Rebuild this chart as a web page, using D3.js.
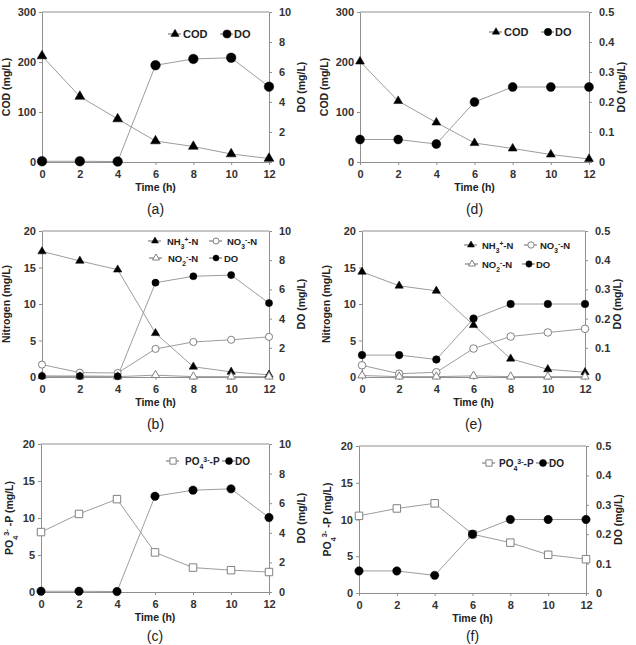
<!DOCTYPE html>
<html>
<head>
<meta charset="utf-8">
<script src="https://cdn.jsdelivr.net/npm/d3@7"></script>
<style>
  body { margin: 0; background: #fff; }
  svg { display: block; }
  text { font-family: Arial, "Liberation Sans", sans-serif; }
</style>
</head>
<body>
<svg id="chart" width="636" height="645"></svg>
<script>
// sampling times (h)
var timeH = [0, 2, 4, 6, 8, 10, 12];

// (a) COD and DO
var codA = [212, 131, 86, 42, 31, 16, 7];
var doA = [0.05, 0.05, 0.03, 6.45, 6.87, 6.95, 5.02];
// (d) COD and DO
var codD = [201, 122, 79, 38, 27, 15, 6];
var doD = [0.075, 0.075, 0.06, 0.2, 0.25, 0.25, 0.25];
// (b) nitrogen species and DO
var nh3B = [17.2, 15.9, 14.7, 6.0, 1.4, 0.7, 0.3];
var no3B = [1.7, 0.6, 0.55, 3.85, 4.8, 5.1, 5.5];
var no2B = [0.1, 0.05, 0.05, 0.25, 0.05, 0.05, 0.05];
var doB = [0.07, 0.07, 0.05, 6.46, 6.9, 6.98, 5.06];
// (e) nitrogen species and DO
var nh3E = [14.4, 12.5, 11.8, 7.1, 2.5, 1.05, 0.65];
var no3E = [1.6, 0.45, 0.65, 3.9, 5.55, 6.1, 6.6];
var no2E = [0.2, 0.05, 0.05, 0.15, 0.05, 0.05, 0.05];
var doE = [0.075, 0.075, 0.06, 0.2, 0.25, 0.25, 0.25];
// (c) phosphate and DO
var po4C = [8.1, 10.55, 12.55, 5.35, 3.3, 2.95, 2.7];
var doC = [0.05, 0.05, 0.03, 6.47, 6.88, 6.97, 5.03];
// (f) phosphate and DO
var po4F = [10.5, 11.5, 12.2, 8.0, 6.85, 5.2, 4.6];
var doF = [0.075, 0.075, 0.06, 0.2, 0.25, 0.25, 0.25];

// axis ticks
var xTicks = [0, 2, 4, 6, 8, 10, 12];
var codTicks = [0, 100, 200, 300];
var nTicks = [0, 5, 10, 15, 20];
var doHighTicks = [0, 2, 4, 6, 8, 10];
var doLowTicks = [0, 0.1, 0.2, 0.3, 0.4, 0.5];

// label pieces: [text, "sub" | "sup" | undefined]
var lblTime = [["Time (h)"]];
var lblCOD = [["COD (mg/L)"]];
var lblDO = [["DO (mg/L)"]];
var lblN = [["Nitrogen (mg/L)"]];
var lblP = [["PO"], ["4", "sub"], ["3-", "sup"], [" -P (mg/L)"]];
var nameCOD = [["COD"]];
var nameDO = [["DO"]];
var nameNH3 = [["NH"], ["3", "sub"], ["+", "sup"], ["-N"]];
var nameNO3 = [["NO"], ["3", "sub"], ["-", "sup"], ["-N"]];
var nameNO2 = [["NO"], ["2", "sub"], ["-", "sup"], ["-N"]];
var namePO4 = [["PO"], ["4", "sub"], ["3-", "sup"], ["-P"]];

var svg = d3.select("#chart");
var axisColor = "#8f8f8f";
var lineColor = "#9c9c9c";

// write label pieces as tspans
function richText(sel, parts) {
  parts.forEach(function (p) {
    var t = sel.append("tspan").text(p[0]);
    if (p[1] === "sub") t.attr("baseline-shift", "sub").attr("font-size", "70%");
    if (p[1] === "sup") t.attr("baseline-shift", "super").attr("font-size", "70%");
  });
}

// draw a marker of some shape at x,y
function marker(g, shape, filled, size, x, y) {
  var sym = shape === "triangle" ? d3.symbolTriangle
    : shape === "square" ? d3.symbolSquare : d3.symbolCircle;
  g.append("path")
    .attr("d", d3.symbol().type(sym).size(size)())
    .attr("transform", "translate(" + x + "," + y + ")")
    .attr("fill", filled ? "#000" : "#fff")
    .attr("stroke", filled ? "#000" : "#808080")
    .attr("stroke-width", filled ? 0.5 : 1);
}

function drawPanel(p) {
  var g = svg.append("g");
  var x = d3.scaleLinear().domain([0, 12]).range([p.x0, p.x1]);
  var yL = d3.scaleLinear().domain(p.leftDomain).range([p.y1, p.y0]);
  var yR = d3.scaleLinear().domain(p.rightDomain).range([p.y1, p.y0]);

  // axes
  var ax = g.append("g").attr("transform", "translate(0," + p.y1 + ")")
    .call(d3.axisBottom(x).tickValues(xTicks).tickSize(3).tickPadding(5).tickSizeOuter(0));
  var al = g.append("g").attr("transform", "translate(" + p.x0 + ",0)")
    .call(d3.axisLeft(yL).tickValues(p.leftTicks).tickSize(3).tickPadding(3).tickSizeOuter(0));
  var ar = g.append("g").attr("transform", "translate(" + p.x1 + ",0)")
    .call(d3.axisRight(yR).tickValues(p.rightTicks).tickSize(3).tickPadding(7).tickSizeOuter(0)
      .tickFormat(d3.format("")));
  [ax, al, ar].forEach(function (a) {
    a.selectAll("path, line").attr("stroke", axisColor);
    a.selectAll("text").attr("fill", "#333").attr("font-size", 11)
      .attr("font-weight", "bold").attr("font-family", "Arial, sans-serif");
  });
  g.append("line")
    .attr("x1", p.x0).attr("x2", p.x1).attr("y1", p.y0).attr("y2", p.y0)
    .attr("stroke", axisColor);

  // axis titles
  richText(g.append("text")
    .attr("x", (p.x0 + p.x1) / 2).attr("y", p.y1 + 29)
    .attr("text-anchor", "middle").attr("font-size", 10.5)
    .attr("font-weight", "bold").attr("fill", "#222"), lblTime);
  var my = (p.y0 + p.y1) / 2;
  richText(g.append("text")
    .attr("transform", "translate(" + (p.x0 - (p.leftOff || 32)) + "," + my + ") rotate(-90)")
    .attr("text-anchor", "middle").attr("font-size", 10.5)
    .attr("font-weight", "bold").attr("fill", "#222"), p.leftLabel);
  richText(g.append("text")
    .attr("transform", "translate(" + (p.x1 + 36) + "," + my + ") rotate(-90)")
    .attr("text-anchor", "middle").attr("font-size", 10.5)
    .attr("font-weight", "bold").attr("fill", "#222"), p.rightLabel);

  // series lines then markers
  p.series.forEach(function (s) {
    var y = s.axis === "R" ? yR : yL;
    var line = d3.line().x(function (d, i) { return x(timeH[i]); })
      .y(function (d) { return y(d); });
    g.append("path").datum(s.values).attr("d", line)
      .attr("fill", "none").attr("stroke", lineColor).attr("stroke-width", 1);
  });
  p.series.forEach(function (s) {
    var y = s.axis === "R" ? yR : yL;
    s.values.forEach(function (v, i) {
      marker(g, s.shape, s.filled, s.size, x(timeH[i]), y(v));
    });
  });

  // legend
  p.legend.forEach(function (l) {
    var s = p.series[l.series];
    g.append("line").attr("x1", l.x - 7).attr("x2", l.x + 6)
      .attr("y1", l.y).attr("y2", l.y).attr("stroke", "#666");
    marker(g, s.shape, s.filled, s.size * 0.7, l.x, l.y);
    richText(g.append("text").attr("x", l.x + l.dx).attr("y", l.y + 4)
      .attr("font-size", l.fs).attr("font-weight", "bold").attr("fill", "#222"), l.name);
  });

  // caption
  g.append("text").attr("x", (p.x0 + p.x1) / 2).attr("y", p.y1 + (p.capOff || 52))
    .attr("text-anchor", "middle").attr("font-size", 14)
    .attr("font-family", "'Liberation Serif', 'DejaVu Serif', serif")
    .attr("fill", "#222").text(p.caption);
}

drawPanel({
  x0: 42, x1: 269, y0: 12, y1: 162,
  leftDomain: [0, 300], leftTicks: codTicks, rightDomain: [0, 10], rightTicks: doHighTicks,
  leftLabel: lblCOD, rightLabel: lblDO, caption: "(a)",
  series: [
    { values: codA, axis: "L", shape: "triangle", filled: true, size: 42 },
    { values: doA, axis: "R", shape: "circle", filled: true, size: 72 }
  ],
  legend: [
    { series: 0, name: nameCOD, x: 175, y: 34, dx: 8, fs: 11 },
    { series: 1, name: nameDO, x: 227, y: 34, dx: 7, fs: 11 }
  ]
});

drawPanel({
  x0: 360, x1: 589, y0: 12, y1: 162,
  leftDomain: [0, 300], leftTicks: codTicks, rightDomain: [0, 0.5], rightTicks: doLowTicks,
  leftLabel: lblCOD, rightLabel: lblDO, caption: "(d)",
  series: [
    { values: codD, axis: "L", shape: "triangle", filled: true, size: 34 },
    { values: doD, axis: "R", shape: "circle", filled: true, size: 62 }
  ],
  legend: [
    { series: 0, name: nameCOD, x: 496, y: 32, dx: 8, fs: 11 },
    { series: 1, name: nameDO, x: 548, y: 32, dx: 7, fs: 11 }
  ]
});

drawPanel({
  x0: 42, x1: 269, y0: 231, y1: 377,
  leftDomain: [0, 20], leftTicks: nTicks, rightDomain: [0, 10], rightTicks: doHighTicks,
  leftLabel: lblN, rightLabel: lblDO, caption: "(b)",
  series: [
    { values: nh3B, axis: "L", shape: "triangle", filled: true, size: 30 },
    { values: no3B, axis: "L", shape: "circle", filled: false, size: 40 },
    { values: no2B, axis: "L", shape: "triangle", filled: false, size: 30 },
    { values: doB, axis: "R", shape: "circle", filled: true, size: 40 }
  ],
  legend: [
    { series: 0, name: nameNH3, x: 155, y: 241, dx: 12, fs: 9.5 },
    { series: 1, name: nameNO3, x: 216, y: 241, dx: 11, fs: 9.5 },
    { series: 2, name: nameNO2, x: 156, y: 258, dx: 12, fs: 9.5 },
    { series: 3, name: nameDO, x: 216, y: 258, dx: 8, fs: 9.5 }
  ]
});

drawPanel({
  x0: 362, x1: 585, y0: 231, y1: 377,
  leftDomain: [0, 20], leftTicks: nTicks, rightDomain: [0, 0.5], rightTicks: doLowTicks,
  leftLabel: lblN, rightLabel: lblDO, caption: "(e)",
  series: [
    { values: nh3E, axis: "L", shape: "triangle", filled: true, size: 30 },
    { values: no3E, axis: "L", shape: "circle", filled: false, size: 45 },
    { values: no2E, axis: "L", shape: "triangle", filled: false, size: 30 },
    { values: doE, axis: "R", shape: "circle", filled: true, size: 45 }
  ],
  legend: [
    { series: 0, name: nameNH3, x: 471, y: 245, dx: 11, fs: 9.5 },
    { series: 1, name: nameNO3, x: 531, y: 245, dx: 9, fs: 9.5 },
    { series: 2, name: nameNO2, x: 472, y: 264, dx: 10, fs: 9.5 },
    { series: 3, name: nameDO, x: 529, y: 264, dx: 7, fs: 9.5 }
  ]
});

drawPanel({
  x0: 41, x1: 269, y0: 444, y1: 592, leftOff: 28, capOff: 49,
  leftDomain: [0, 20], leftTicks: nTicks, rightDomain: [0, 10], rightTicks: doHighTicks,
  leftLabel: lblP, rightLabel: lblDO, caption: "(c)",
  series: [
    { values: po4C, axis: "L", shape: "square", filled: false, size: 56 },
    { values: doC, axis: "R", shape: "circle", filled: true, size: 55 }
  ],
  legend: [
    { series: 0, name: namePO4, x: 173, y: 461, dx: 12, fs: 10 },
    { series: 1, name: nameDO, x: 229, y: 461, dx: 6, fs: 10 }
  ]
});

drawPanel({
  x0: 359, x1: 586, y0: 446, y1: 593, leftOff: 28, capOff: 48,
  leftDomain: [0, 20], leftTicks: nTicks, rightDomain: [0, 0.5], rightTicks: doLowTicks,
  leftLabel: lblP, rightLabel: lblDO, caption: "(f)",
  series: [
    { values: po4F, axis: "L", shape: "square", filled: false, size: 56 },
    { values: doF, axis: "R", shape: "circle", filled: true, size: 55 }
  ],
  legend: [
    { series: 0, name: namePO4, x: 489, y: 463, dx: 10, fs: 10 },
    { series: 1, name: nameDO, x: 543, y: 463, dx: 6, fs: 10 }
  ]
});
</script>
</body>
</html>
